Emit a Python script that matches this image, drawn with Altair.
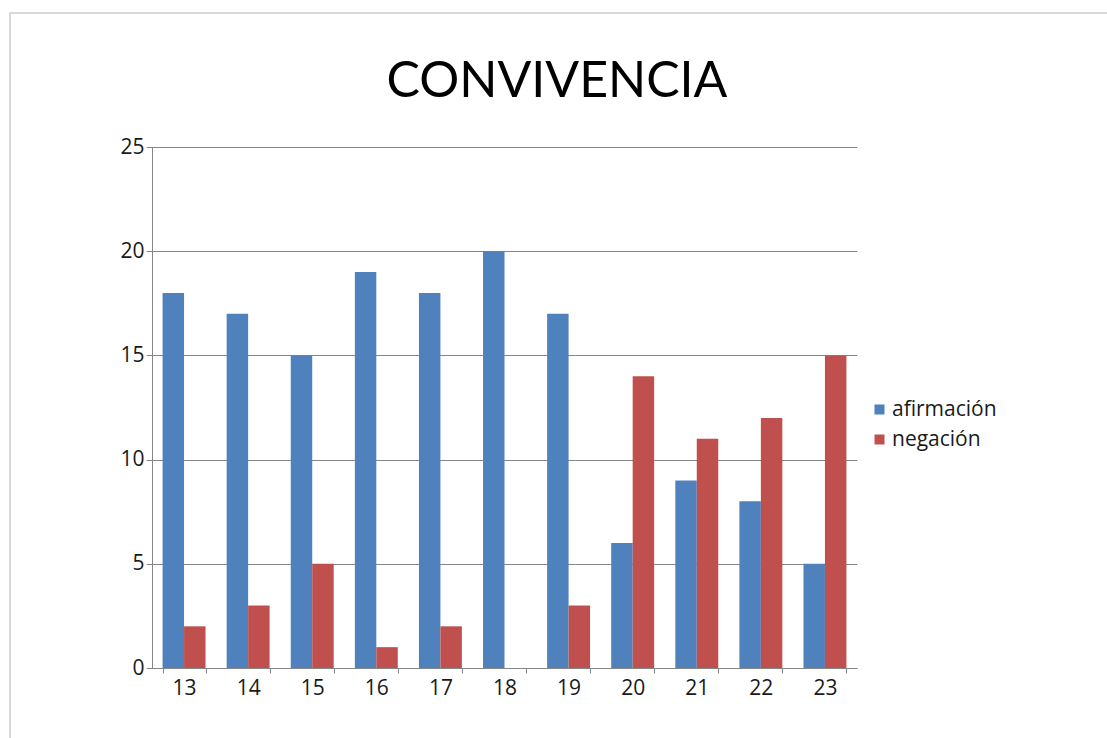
import altair as alt
import pandas as pd

categories = ["13", "14", "15", "16", "17", "18", "19", "20", "21", "22", "23"]
afirmacion = [18, 17, 15, 19, 18, 20, 17, 6, 9, 8, 5]
negacion = [2, 3, 5, 1, 2, 0, 3, 14, 11, 12, 15]
series = ["afirmación", "negación"]
colors = ["#4F81BD", "#C0504D"]
title_text = "CONVIVENCIA"

rows = []
for c, a, n in zip(categories, afirmacion, negacion):
    rows.append({"edad": c, "serie": series[0], "valor": a})
    rows.append({"edad": c, "serie": series[1], "valor": n})
df = pd.DataFrame(rows)

FONT = "Open Sans"
TFONT = "Lato"

bars = alt.Chart(df).mark_bar(stroke=None).encode(
    x=alt.X("edad:N", sort=categories, title=None,
            scale=alt.Scale(paddingInner=0.33, paddingOuter=0.165),
            axis=alt.Axis(labelAngle=0, tickBand="extent", tickSize=5, labelPadding=4,
                          domainColor="#868686", tickColor="#868686", labelFontSize=21,
                          labelFont=FONT, labelColor="#1a1a1a", grid=False)),
    xOffset=alt.XOffset("serie:N", sort=series),
    y=alt.Y("valor:Q", title=None, scale=alt.Scale(domain=[0, 25], nice=False),
            axis=alt.Axis(values=[0, 5, 10, 15, 20, 25], tickSize=6, labelPadding=2,
                          domainColor="#868686", tickColor="#868686", gridColor="#868686",
                          gridOpacity=1, labelFontSize=21, labelFont=FONT,
                          labelColor="#1a1a1a")),
    color=alt.Color("serie:N", sort=series,
                    scale=alt.Scale(domain=series, range=colors),
                    legend=alt.Legend(title=None, orient="none", legendX=717, legendY=252,
                                      symbolType="square", symbolSize=100,
                                      symbolStrokeWidth=0, labelFontSize=21,
                                      labelFont=FONT, labelColor="#1a1a1a",
                                      rowPadding=8, labelOffset=2)),
)

frame = alt.Chart(alt.Data(values=[{"a": 1}])).mark_rect(
    fill=None, stroke="#d9d9d9", strokeWidth=2
).encode(
    x=alt.value(-142), x2=alt.value(1000), y=alt.value(-134), y2=alt.value(700)
)

title = alt.Chart(alt.Data(values=[{"t": title_text}])).mark_text(
    font=TFONT, fontSize=50, color="#000000", align="center", baseline="alphabetic"
).encode(
    text="t:N", x=alt.value(405), y=alt.value(-50)
)

chart = alt.layer(frame, title, bars).properties(
    width=705, height=521,
    autosize=alt.AutoSizeParams(type="none"),
    padding={"left": 152, "top": 147, "right": 250, "bottom": 70},
    background="white",
).configure_view(stroke=None)

chart.save("out.html", embed_options={"renderer": "svg", "actions": False})
